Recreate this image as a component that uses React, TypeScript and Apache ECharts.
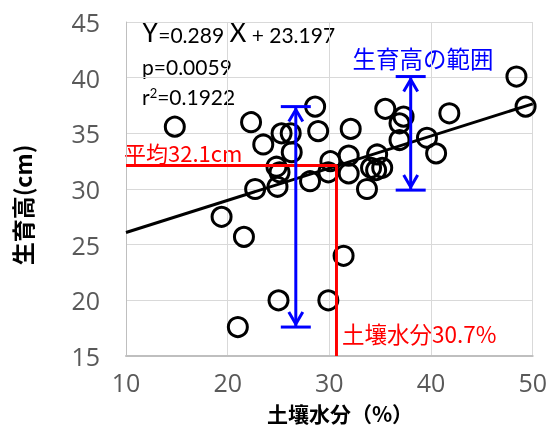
import { useEffect, useRef } from "react";
import * as echarts from "echarts";

// Scatter data: soil moisture (%) vs plant height (cm)
const soilMoisture = [
  14.8, 22.3, 28.6, 25.3, 26.2, 28.9, 23.5, 26.3, 24.8, 25.1, 30.1, 29.9, 22.7,
  24.9, 28.1, 35.5, 37.3, 36.9, 32.1, 36.9, 39.6, 40.5, 34.7, 31.9, 31.9, 34.1,
  34.6, 35.2, 33.7, 48.4, 49.3, 41.8, 19.4, 21.6, 31.4, 25.0, 29.9, 21.0,
];
const plantHeight = [
  35.6, 36.0, 37.4, 35.0, 35.0, 35.2, 34.0, 33.3, 32.0, 31.5, 32.5, 31.5, 30.0,
  30.2, 30.7, 37.2, 36.5, 35.9, 35.4, 34.4, 34.6, 33.2, 33.1, 33.0, 31.4, 31.9,
  31.7, 31.9, 30.0, 40.1, 37.4, 36.8, 27.5, 25.7, 24.0, 20.0, 20.0, 17.6,
];

// Regression line end points (Y = 0.289 X + 23.197)
const trendX = [10, 50];
const trendY = [26.09, 37.65];

// Means
const meanMoisture = 30.7;
const meanHeight = 32.1;

// Range bars (blue)
const rangeX = [26.7, 38.0];
const rangeMin = [17.6, 29.9];
const rangeMax = [37.4, 40.1];

// Axes
const xMin = 10, xMax = 50, xStep = 10;
const yMin = 15, yMax = 45, yStep = 5;

export default function App() {
  const ref = useRef<HTMLDivElement>(null);
  useEffect(() => {
    const chart = echarts.init(ref.current!, null, { renderer: "svg" });
    const tickFont = "'Open Sans', sans-serif";
    const cjk = "'Noto Sans CJK JP', sans-serif";
    const lato = "Lato, sans-serif";
    const blue = "#0000ff";
    const red = "#ff0000";

    chart.setOption({
      animation: false,
      grid: { left: 126, right: 14, top: 22, bottom: 86 },
      xAxis: {
        type: "value",
        min: xMin,
        max: xMax,
        interval: xStep,
        axisLine: { show: true, lineStyle: { color: "#bfbfbf", width: 2 } },
        axisTick: { show: false },
        splitLine: { show: true, lineStyle: { color: "#d9d9d9", width: 1 } },
        axisLabel: { color: "#595959", fontSize: 25, fontFamily: tickFont, margin: 13 },
      },
      yAxis: {
        type: "value",
        min: yMin,
        max: yMax,
        interval: yStep,
        axisLine: { show: true, lineStyle: { color: "#bfbfbf", width: 1 } },
        axisTick: { show: false },
        splitLine: { show: true, lineStyle: { color: "#d9d9d9", width: 1 } },
        axisLabel: { color: "#595959", fontSize: 25, fontFamily: tickFont, margin: 26 },
      },
      series: [
        {
          type: "scatter",
          data: soilMoisture.map((x, i) => [x, plantHeight[i]]),
          symbol: "circle",
          symbolSize: 19,
          itemStyle: { color: "rgba(0,0,0,0)", borderColor: "#000", borderWidth: 3, opacity: 1 },
          z: 2,
        },
        {
          type: "line",
          data: trendX.map((x, i) => [x, trendY[i]]),
          symbol: "none",
          lineStyle: { color: "#000", width: 3 },
          z: 3,
        },
        {
          type: "line",
          data: [
            [xMin, meanHeight],
            [meanMoisture, meanHeight],
            [meanMoisture, yMin],
          ],
          symbol: "none",
          lineStyle: { color: red, width: 3 },
          z: 4,
        },
        {
          type: "custom",
          data: rangeX.map((x, i) => [x, rangeMin[i], rangeMax[i]]),
          encode: { x: 0, y: [1, 2] },
          z: 5,
          renderItem: (_params: any, api: any) => {
            const x = api.value(0);
            const lo = api.value(1);
            const hi = api.value(2);
            const top = api.coord([x, hi]);
            const bot = api.coord([x, lo]);
            const cx = top[0];
            const st = { stroke: blue, lineWidth: 3, fill: "none" };
            return {
              type: "group",
              children: [
                { type: "line", shape: { x1: cx, y1: top[1], x2: cx, y2: bot[1] }, style: st },
                { type: "line", shape: { x1: cx - 15, y1: top[1], x2: cx + 15, y2: top[1] }, style: st },
                { type: "line", shape: { x1: cx - 15, y1: bot[1], x2: cx + 15, y2: bot[1] }, style: st },
                {
                  type: "polyline",
                  shape: { points: [[cx - 7, top[1] + 15], [cx, top[1] + 3], [cx + 7, top[1] + 15]] },
                  style: st,
                },
                {
                  type: "polyline",
                  shape: { points: [[cx - 7, bot[1] - 15], [cx, bot[1] - 3], [cx + 7, bot[1] - 15]] },
                  style: st,
                },
              ],
            };
          },
        },
      ],
      graphic: [
        {
          type: "text",
          x: 142,
          y: 45,
          style: {
            text: "{a|Y}{b|=0.289 }{a|X}{b| + 23.197}",
            align: "left",
            verticalAlign: "bottom",
            textAlign: "left",
            textVerticalAlign: "bottom",
            rich: {
              a: { fontSize: 26, fontFamily: lato, fill: "#000", color: "#000", verticalAlign: "bottom" },
              b: { fontSize: 21, fontFamily: lato, fill: "#000", color: "#000", verticalAlign: "bottom" },
            },
          },
        },
        {
          type: "text",
          x: 142,
          y: 66,
          style: {
            text: "p=0.0059",
            font: `21px ${lato}`,
            fill: "#000",
            align: "left",
            verticalAlign: "middle",
            textAlign: "left",
            textVerticalAlign: "middle",
          },
        },
        {
          type: "text",
          x: 142,
          y: 107,
          style: {
            text: "{b|r}{s|2}{b|=0.1922}",
            align: "left",
            verticalAlign: "bottom",
            textAlign: "left",
            textVerticalAlign: "bottom",
            rich: {
              b: { fontSize: 21, fontFamily: lato, fill: "#000", color: "#000", verticalAlign: "bottom" },
              s: { fontSize: 13, fontFamily: lato, fill: "#000", color: "#000", verticalAlign: "top" },
            },
          },
        },
        {
          type: "text",
          x: 423,
          y: 58,
          style: {
            text: "生育高の範囲",
            font: `23.5px ${cjk}`,
            fill: blue,
            align: "center",
            verticalAlign: "middle",
            textAlign: "center",
            textVerticalAlign: "middle",
          },
        },
        {
          type: "text",
          x: 124,
          y: 152,
          style: {
            text: "平均32.1cm",
            font: `22px ${cjk}`,
            fill: red,
            align: "left",
            verticalAlign: "middle",
            textAlign: "left",
            textVerticalAlign: "middle",
          },
        },
        {
          type: "text",
          x: 342,
          y: 333,
          style: {
            text: "土壤水分30.7%",
            font: `22.5px ${cjk}`,
            fill: red,
            align: "left",
            verticalAlign: "middle",
            textAlign: "left",
            textVerticalAlign: "middle",
          },
        },
        {
          type: "text",
          x: 340,
          y: 413,
          style: {
            text: "土壤水分（%）",
            font: `bold 21px ${cjk}`,
            fill: "#000",
            align: "center",
            verticalAlign: "middle",
            textAlign: "center",
            textVerticalAlign: "middle",
          },
        },
        {
          type: "text",
          x: 22,
          y: 205,
          rotation: Math.PI / 2,
          style: {
            text: "生育高(cm)",
            font: `bold 23px ${cjk}`,
            fill: "#000",
            align: "center",
            verticalAlign: "middle",
            textAlign: "center",
            textVerticalAlign: "middle",
          },
        },
      ],
    });
    return () => chart.dispose();
  }, []);
  return (
    <div
      ref={ref}
      style={{ position: "fixed", left: 0, top: 0, width: 550, height: 442 }}
    />
  );
}
